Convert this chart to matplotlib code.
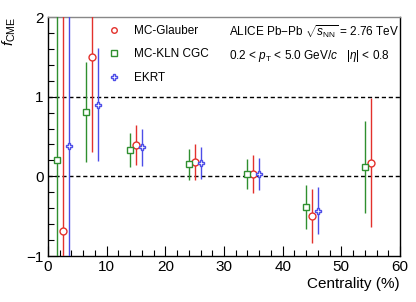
import matplotlib
matplotlib.use("Agg")
import matplotlib.pyplot as plt
from matplotlib.lines import Line2D
from matplotlib.ticker import MultipleLocator

plt.rcParams['font.family'] = ['Liberation Sans', 'DejaVu Sans']
plt.rcParams['mathtext.fontset'] = 'custom'
plt.rcParams['mathtext.rm'] = 'Liberation Sans'
plt.rcParams['mathtext.it'] = 'Liberation Sans:italic'

# MC-Glauber
glauber_x = [2.5, 7.5, 15, 25, 35, 45, 55]
glauber_y = [-0.69, 1.50, 0.39, 0.18, 0.03, -0.50, 0.17]
glauber_err = [3.0, 1.19, 0.25, 0.23, 0.24, 0.34, 0.81]

# MC-KLN CGC
kln_x = [1.5, 6.5, 14, 24, 34, 44, 54]
kln_y = [0.20, 0.81, 0.33, 0.15, 0.025, -0.385, 0.12]
kln_err = [3.0, 0.63, 0.21, 0.19, 0.19, 0.275, 0.575]

# EKRT
ekrt_x = [3.5, 8.5, 16, 26, 36, 46]
ekrt_y = [0.38, 0.90, 0.365, 0.165, 0.03, -0.43]
ekrt_err = [3.0, 0.71, 0.235, 0.20, 0.20, 0.30]

red = '#e3312c'
green = '#2f8f2f'
blue = '#4d4de8'

fig = plt.figure(figsize=(4.16, 3.02), dpi=100)
ax = fig.add_axes([0.1154, 0.1523, 0.8461, 0.7914])

ax.axhline(0, color='black', ls=(0, (3, 2)), lw=1.0, zorder=1)
ax.axhline(1, color='black', ls=(0, (3, 2)), lw=1.0, zorder=1)

common = dict(ls='none', elinewidth=1.0, capsize=0, markersize=5,
              markerfacecolor='white', markeredgewidth=1.0, zorder=3)
ax.errorbar(glauber_x, glauber_y, yerr=glauber_err, fmt='o', color=red,
            mec=red, **common)
ax.errorbar(kln_x, kln_y, yerr=kln_err, fmt='s', color=green,
            mec=green, **common)
ax.errorbar(ekrt_x, ekrt_y, yerr=ekrt_err, fmt='P', color=blue,
            mec=blue, **common)

handles = [
    Line2D([], [], ls='none', marker='o', ms=4, mfc='white', mec=red, mew=1.0),
    Line2D([], [], ls='none', marker='s', ms=4, mfc='white', mec=green, mew=1.0),
    Line2D([], [], ls='none', marker='P', ms=4, mfc='white', mec=blue, mew=1.0),
]
labels = ['MC-Glauber', 'MC-KLN CGC', 'EKRT']

ax.set_xlim(0, 60)
ax.set_ylim(-1, 2)
ax.xaxis.set_major_locator(MultipleLocator(10))
ax.xaxis.set_minor_locator(MultipleLocator(2))
ax.yaxis.set_major_locator(MultipleLocator(1))
ax.yaxis.set_minor_locator(MultipleLocator(0.2))
ax.tick_params(which='both', direction='in', top=False, right=False,
               labelsize=11, width=0.8)
ax.tick_params(which='major', length=7, pad=3)
ax.tick_params(which='minor', length=4)
for s in ax.spines.values():
    s.set_linewidth(1.0)
ax.spines['top'].set_color('#888888')

ax.set_xlabel('Centrality (%)', fontsize=11, loc='right', labelpad=2)
ax.set_ylabel(r'$f_{\rm CME}$', fontsize=11, loc='top', labelpad=6)

ax.legend(handles, labels, loc='upper left', bbox_to_anchor=(0.155, 0.995),
          frameon=False, fontsize=8.5, handlelength=0.8, handletextpad=1.3,
          labelspacing=0.95, borderaxespad=0.2)

ax.text(0.515, 0.94, r'ALICE Pb$-$Pb $\sqrt{s_{\rm NN}}$ = 2.76 TeV',
        transform=ax.transAxes, fontsize=8.5, ha='left', va='center')
ax.text(0.515, 0.835, r'0.2 < $p_{\rm T}$ < 5.0 GeV/$c$   |$\eta$| < 0.8',
        transform=ax.transAxes, fontsize=8.5, ha='left', va='center')

fig.savefig('out.png', dpi=100)
